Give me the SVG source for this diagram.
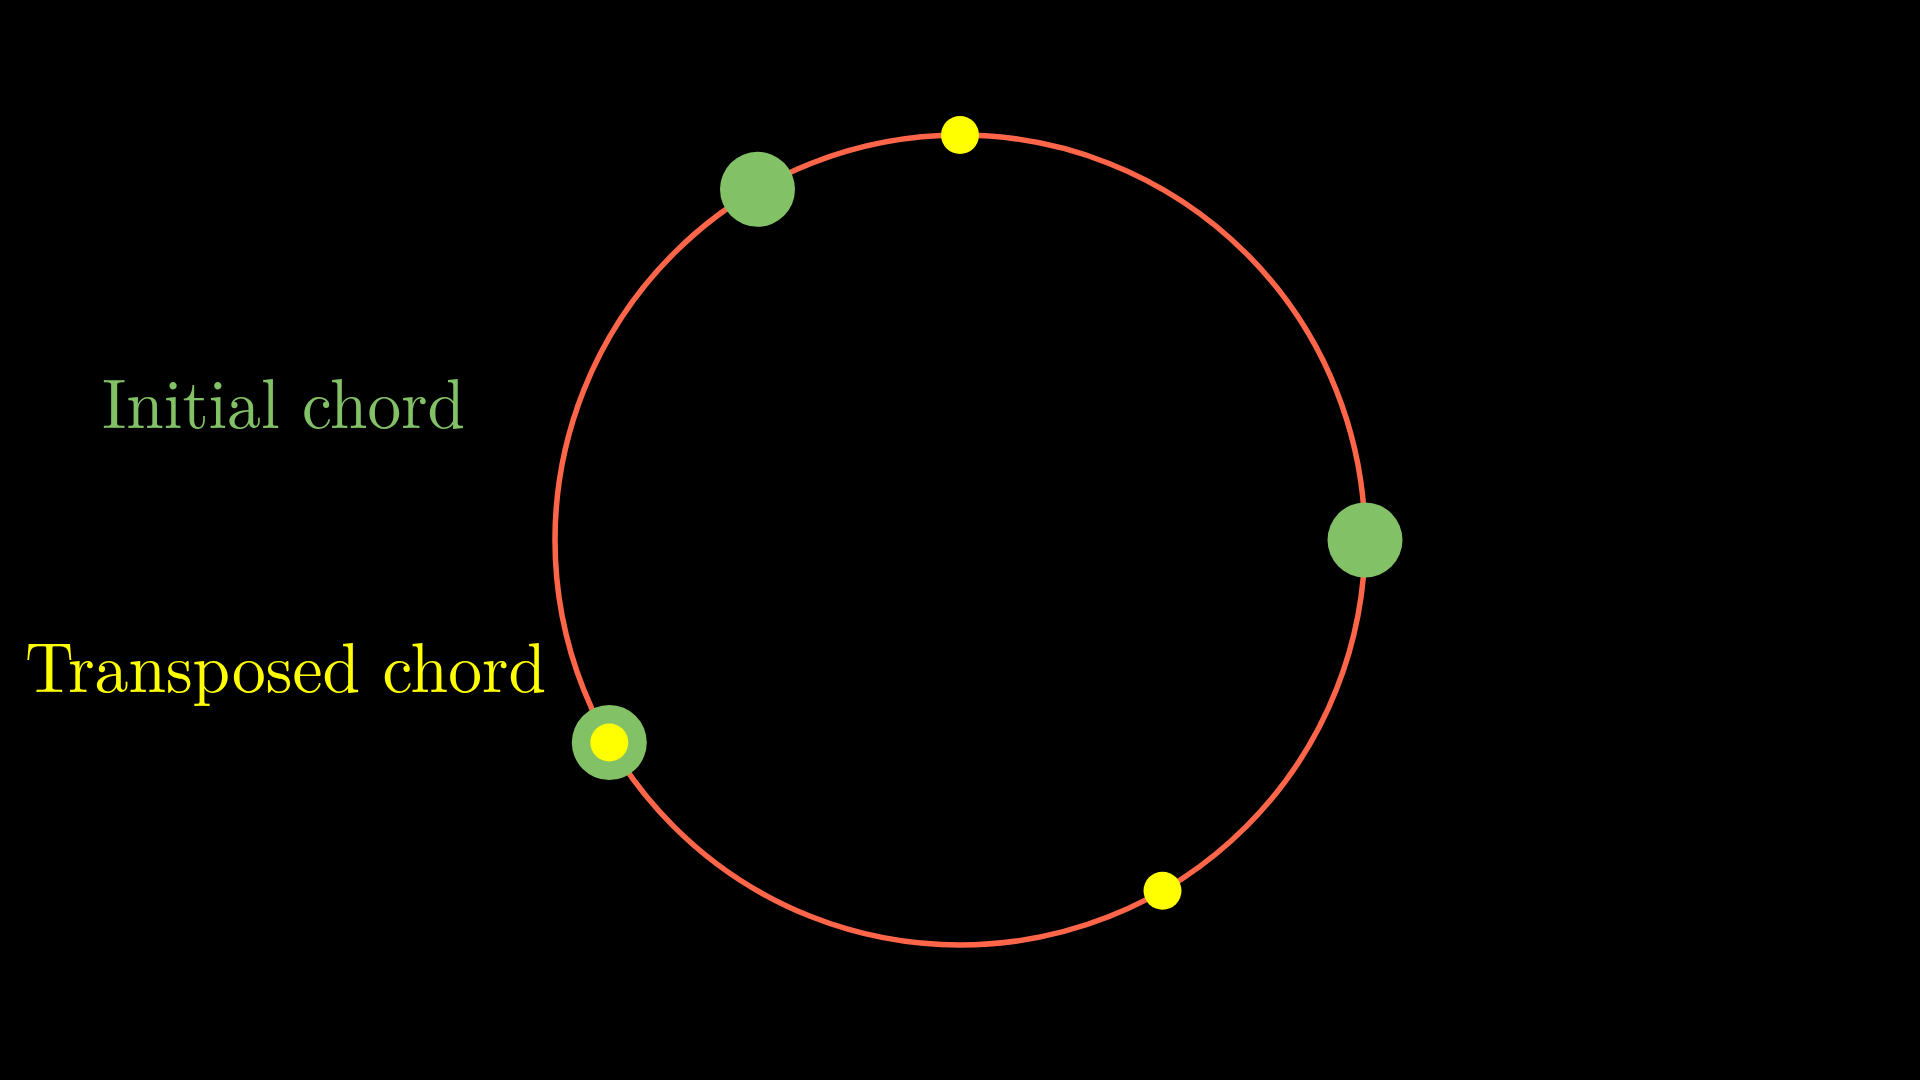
<svg xmlns="http://www.w3.org/2000/svg" width="1920" height="1080" viewBox="0 0 1920 1080">
  <style>
    .ring { fill: none; stroke: #FF6649; stroke-width: 5.5; }
    .green { fill: #83C167; }
    .yellow { fill: #FFFF00; }
    .label { font-family: "Latin Modern Roman", "Liberation Serif", "DejaVu Serif", serif; font-size: 70px; text-anchor: start; }
  </style>
  <rect width="1920" height="1080" fill="#000000"/>
  <g id="connectors">
    <circle id="ring" class="ring" cx="960" cy="540" r="405"/>
  </g>
  <g id="green-0"><circle class="green" cx="1365" cy="540" r="37.5"/></g>
  <g id="green-1"><circle class="green" cx="757.5" cy="189.3" r="37.5"/></g>
  <g id="green-2"><circle class="green" cx="609.3" cy="742.5" r="37.5"/></g>
  <g id="yellow-0"><circle class="yellow" cx="960" cy="135" r="19"/></g>
  <g id="yellow-1"><circle class="yellow" cx="1162.5" cy="890.7" r="19"/></g>
  <g id="yellow-2"><circle class="yellow" cx="609.3" cy="742.5" r="19"/></g>
  <g id="label-initial">
    <text class="label" x="102" y="428" fill="#83C167" textLength="363" lengthAdjust="spacingAndGlyphs">Initial chord</text>
  </g>
  <g id="label-transposed">
    <text class="label" x="25" y="692" fill="#FFFF00" textLength="521" lengthAdjust="spacingAndGlyphs">Transposed chord</text>
  </g>
</svg>
